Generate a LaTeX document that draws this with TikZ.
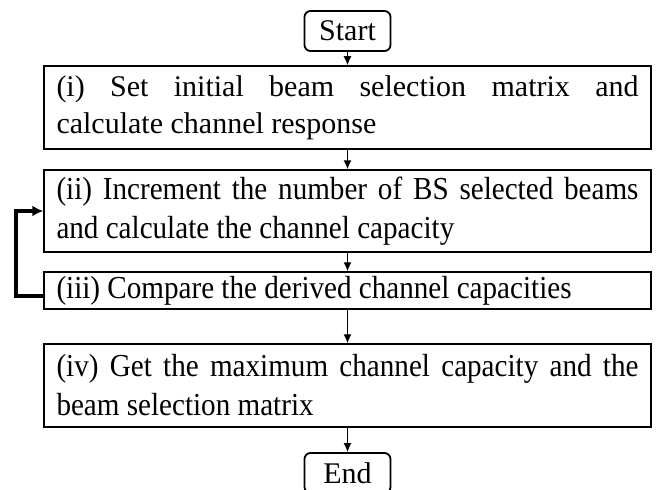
\documentclass[tikz,border=0pt]{standalone}
\usepackage{fontspec}
\setmainfont{Liberation Serif}
\newfontfamily\tnr[FakeStretch=0.91]{Liberation Serif}
\newfontfamily\cmb{Liberation Serif}
\usetikzlibrary{arrows.meta}
\begin{document}
\begin{tikzpicture}[x=1pt,y=-1pt,
  box/.style={draw, line width=1.5pt, minimum width=607pt, inner sep=0pt,
    text width=582pt, align=justify, anchor=center},
  term/.style={draw, line width=1.8pt, rounded corners=6pt, minimum width=86pt,
    minimum height=40pt, inner sep=0pt, font=\cmb\fontsize{30}{36}\selectfont},
  arr/.style={-{Latex[length=9pt,width=8pt]}, line width=1.3pt},
  fback/.style={-{Latex[length=11pt,width=11pt]}, line width=4pt},
  tn/.style={font=\tnr\fontsize{32}{39}\selectfont}]
\useasboundingbox (0,0) rectangle (660,489);
\node[term] (start) at (347.5,31) {Start};
\node[box, minimum height=83pt, font=\cmb\fontsize{30}{37}\selectfont] (b1) at (347.5,107.5)
  {(i) Set initial beam selection matrix and\linebreak calculate channel response};
\node[box, tn, minimum height=82pt] (b2) at (347.5,211)
  {(ii) Increment the number of BS selected beams\linebreak and calculate the channel capacity};
\node[box, tn, minimum height=37pt] (b3) at (347.5,290.5)
  {(iii) Compare the derived channel capacities};
\node[box, tn, minimum height=83pt] (b4) at (347.5,385.5)
  {(iv) Get the maximum channel capacity and the\linebreak beam selection matrix};
\node[term] (end) at (347.5,473) {End};
\draw[arr] (start) -- (b1);
\draw[arr] (b1) -- (b2);
\draw[arr] (b2) -- (b3);
\draw[arr] (b3) -- (b4);
\draw[arr] (b4) -- (end);
\draw[fback] ([yshift=-5pt]b3.west) -| ([xshift=-27pt]b2.west) -- (b2.west);
\end{tikzpicture}
\end{document}
